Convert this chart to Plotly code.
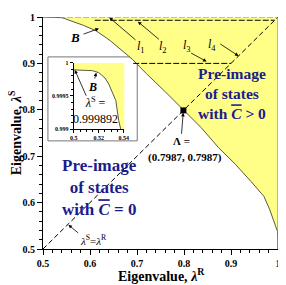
import plotly.graph_objects as go

# Boundary curve B (lambda^R, lambda^S)
b_x = [0.5, 0.51, 0.515, 0.52, 0.525, 0.528, 0.531, 0.5337, 0.536, 0.5376, 0.54, 0.545, 0.557,
       0.57, 0.586, 0.6134, 0.643, 0.69, 0.72, 0.76, 0.7987, 0.8376, 0.8734, 0.909, 0.943,
       0.970, 0.982, 0.993, 0.997, 0.999, 0.9996, 0.99985, 0.99989]
b_y = [0.999892, 0.99989, 0.99988, 0.99985, 0.99977, 0.99968, 0.99955, 0.99943, 0.99913, 0.999,
       0.9985, 0.997, 0.993, 0.988, 0.982, 0.970, 0.949, 0.909, 0.878, 0.839, 0.7987, 0.7605,
       0.7185, 0.683, 0.645, 0.6134, 0.586, 0.557, 0.545, 0.5376, 0.528, 0.515, 0.5]

lam_A = 0.7987
diag = [0.5, 1.0]
l1_y, l1_x = 1.0, [0.5, 1.0]
l2_y, l2_x = 0.993, [0.61, 0.993]
l3_y, l3_x = 0.9, [0.692, 0.9]

main_ticks = [0.5, 0.6, 0.7, 0.8, 0.9, 1.0]
main_ticktext = ["0.5", "0.6", "0.7", "0.8", "0.9", "1"]
inset_xticks = [0.5, 0.52, 0.54]
inset_xtext = ["0.5", "0.52", "0.54"]
inset_yticks = [0.999, 0.9995, 1.0]
inset_ytext = ["0.999", "0.9995", "1"]

SERIF = "Times New Roman, Liberation Serif, DejaVu Serif, serif"
YELLOW = "#FFFF88"
CURVE = "#5a5a3a"
BLUE = "#1c1c8c"

poly_x = b_x + [1.0, 1.0, 0.5]
poly_y = b_y + [0.5, 1.0, 1.0]

fig = go.Figure()

# main panel
fig.add_trace(go.Scatter(x=poly_x, y=poly_y, fill="toself", fillcolor=YELLOW, mode="none",
                         hoverinfo="skip", xaxis="x", yaxis="y"))
fig.add_trace(go.Scatter(x=b_x, y=b_y, mode="lines", line=dict(color=CURVE, width=1),
                         xaxis="x", yaxis="y"))
fig.add_trace(go.Scatter(x=diag, y=diag, mode="lines",
                         line=dict(color="black", width=1, dash="5px,3px"), xaxis="x", yaxis="y"))
fig.add_trace(go.Scatter(x=l1_x, y=[l1_y, l1_y], mode="lines",
                         line=dict(color="#888888", width=1.2, dash="6px,2px"), xaxis="x", yaxis="y"))
fig.add_trace(go.Scatter(x=l2_x, y=[l2_y, l2_y], mode="lines",
                         line=dict(color="black", width=1, dash="6px,2px"), xaxis="x", yaxis="y"))
fig.add_trace(go.Scatter(x=l3_x, y=[l3_y, l3_y], mode="lines",
                         line=dict(color="black", width=1, dash="6px,2px"), xaxis="x", yaxis="y"))
fig.add_trace(go.Scatter(x=[lam_A], y=[lam_A], mode="markers",
                         marker=dict(color="black", size=6, symbol="square"), xaxis="x", yaxis="y"))

# inset
fig.add_trace(go.Scatter(x=poly_x, y=poly_y, fill="toself", fillcolor=YELLOW, mode="none",
                         hoverinfo="skip", xaxis="x2", yaxis="y2"))
fig.add_trace(go.Scatter(x=b_x, y=b_y, mode="lines", line=dict(color=CURVE, width=1),
                         xaxis="x2", yaxis="y2"))

tickfont = dict(family=SERIF, size=10, color="black", weight="bold")
fig.update_layout(
    width=278, height=277,
    margin=dict(l=35, r=6, t=3, b=36),
    paper_bgcolor="white", plot_bgcolor="white",
    showlegend=False,
    font=dict(family=SERIF, color="black"),
    xaxis=dict(domain=[0, 1], range=[0.5, 1.0], tickvals=main_ticks, ticktext=main_ticktext,
               ticks="outside", ticklen=5, tickwidth=1, tickcolor="black",
               minor=dict(dtick=0.02, tick0=0.5, ticks="outside", ticklen=3, tickcolor="black"),
               showline=True, linecolor="black", linewidth=1, showgrid=False, zeroline=False,
               tickfont=tickfont, anchor="y"),
    yaxis=dict(domain=[0, 1], range=[0.5, 1.0], tickvals=main_ticks, ticktext=main_ticktext,
               ticks="outside", ticklen=5, tickwidth=1, tickcolor="black",
               minor=dict(dtick=0.02, tick0=0.5, ticks="outside", ticklen=3, tickcolor="black"),
               showline=True, linecolor="black", linewidth=1, showgrid=False, zeroline=False,
               tickfont=tickfont, anchor="x"),
    xaxis2=dict(domain=[0.131, 0.346], range=[0.5, 0.5405], tickvals=inset_xticks,
                ticktext=inset_xtext, ticks="outside", ticklen=3, tickcolor="black",
                minor=dict(dtick=0.005, tick0=0.5, ticks="outside", ticklen=2, tickcolor="black"),
                showline=True, linecolor="black", linewidth=1, showgrid=False, zeroline=False,
                tickfont=dict(family=SERIF, size=6, color="black", weight="bold"), anchor="y2"),
    yaxis2=dict(domain=[0.517, 0.803], range=[0.999, 1.0], tickvals=inset_yticks,
                ticktext=inset_ytext, ticks="outside", ticklen=3, tickcolor="black",
                minor=dict(dtick=0.0001, tick0=0.999, ticks="outside", ticklen=2, tickcolor="black"),
                showline=True, linecolor="black", linewidth=1, showgrid=False, zeroline=False,
                tickfont=dict(family=SERIF, size=6, color="black", weight="bold"), anchor="x2"),
)

# frame pieces
fig.add_shape(type="rect", xref="paper", yref="paper", x0=0.021, x1=0.401, y0=0.466, y1=0.828,
              fillcolor="white", line=dict(color="#777777", width=1), layer="below")
fig.add_shape(type="line", xref="x", yref="y", x0=1.0, x1=1.0, y0=0.5, y1=1.0,
              line=dict(color="#777777", width=1), layer="above")

def arrow(x, y, ax, ay, xr="x", yr="y"):
    fig.add_annotation(x=x, y=y, ax=ax, ay=ay, xref=xr, yref=yr, axref=xr, ayref=yr,
                       text="", showarrow=True, arrowhead=2, arrowsize=0.9, arrowwidth=0.8,
                       arrowcolor="black")

def label(x, y, text, size, xr="x", yr="y", color="black", bold=False, xa="center"):
    fig.add_annotation(x=x, y=y, xref=xr, yref=yr, text=text, showarrow=False,
                       xanchor=xa, yanchor="middle",
                       font=dict(family=SERIF, size=size, color=color,
                                 weight="bold" if bold else "normal"))

# B label main
label(0.5675, 0.956, "<i>B</i>", 13, bold=True)
arrow(0.619, 0.975, 0.583, 0.962)
# l labels
label(0.709, 0.935, "<i>l</i><sub>1</sub>", 12)
arrow(0.641, 0.999, 0.700, 0.948)
label(0.755, 0.935, "<i>l</i><sub>2</sub>", 12)
arrow(0.702, 0.990, 0.750, 0.949)
label(0.806, 0.937, "<i>l</i><sub>3</sub>", 12)
arrow(0.848, 0.904, 0.812, 0.924)
label(0.859, 0.939, "<i>l</i><sub>4</sub>", 12)
arrow(0.916, 0.916, 0.874, 0.944)
# Lambda label
label(0.7945, 0.733, "Λ =", 11, bold=True)
arrow(0.7983, 0.7935, 0.7945, 0.745)
label(0.8017, 0.6975, "(0.7987, 0.7987)", 11, bold=True)
# diagonal label
label(0.607, 0.519, "<i>λ</i><sup>S</sup>=<i>λ</i><sup>R</sup>", 11)
arrow(0.554, 0.552, 0.578, 0.532)
# region texts
label(0.903, 0.836, "Pre-image<br>of states<br>with <i><span style='text-decoration:overline'>C</span></i> > 0",
      15.5, color=BLUE, bold=True)
label(0.620, 0.632, "Pre-image<br>of states<br>with <i><span style='text-decoration:overline'>C</span></i> = 0",
      17, color=BLUE, bold=True)
# inset labels
label(0.5149, 0.99963, "<i>B</i>", 12, xr="x2", yr="y2", bold=True)
arrow(0.518, 0.99985, 0.5165, 0.99974, xr="x2", yr="y2")
label(0.5175, 0.99928, "<i>λ</i><sup>S</sup> =<br>0.999892", 12, xr="x2", yr="y2")
arrow(0.5008, 0.99989, 0.5105, 0.99948, xr="x2", yr="y2")

# axis titles
fig.add_annotation(x=0.506, y=-0.11, xref="paper", yref="paper", showarrow=False,
                   text="Eigenvalue, <i>λ</i><sup>R</sup>", xanchor="center", yanchor="middle",
                   font=dict(family=SERIF, size=14, color="black", weight="bold"))
fig.add_annotation(x=-0.118, y=0.5, xref="paper", yref="paper", showarrow=False, textangle=-90,
                   text="Eigenvalue, <i>λ</i><sup>S</sup>", xanchor="center", yanchor="middle",
                   font=dict(family=SERIF, size=14, color="black", weight="bold"))

fig.write_html("out.html")
